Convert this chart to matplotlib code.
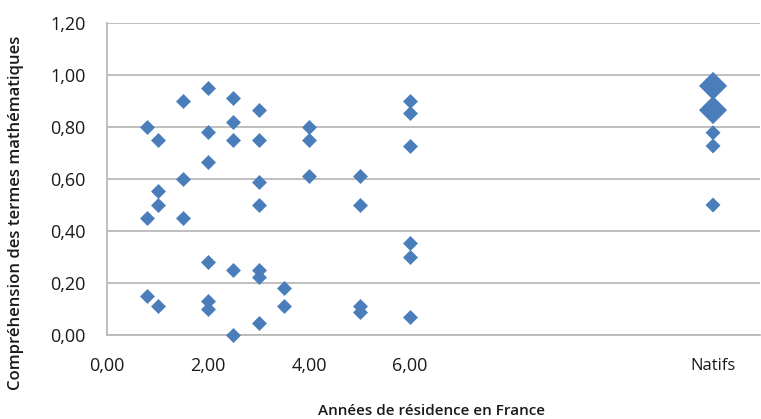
import matplotlib
matplotlib.use("Agg")
import matplotlib.pyplot as plt
import matplotlib.transforms as mtransforms

# Data
years = [0.8, 0.8, 0.8,
         1.0, 1.0, 1.0, 1.0,
         1.5, 1.5, 1.5,
         2.0, 2.0, 2.0, 2.0, 2.0, 2.0,
         2.5, 2.5, 2.5, 2.5, 2.5,
         3.0, 3.0, 3.0, 3.0, 3.0, 3.0, 3.0,
         3.5, 3.5,
         4.0, 4.0, 4.0,
         5.0, 5.0, 5.0, 5.0,
         6.0, 6.0, 6.0, 6.0, 6.0, 6.0]
comprehension = [0.80, 0.45, 0.15,
                 0.75, 0.555, 0.50, 0.11,
                 0.90, 0.60, 0.45,
                 0.95, 0.78, 0.667, 0.28, 0.13, 0.10,
                 0.91, 0.82, 0.75, 0.25, 0.0,
                 0.865, 0.75, 0.59, 0.50, 0.25, 0.225, 0.045,
                 0.18, 0.11,
                 0.80, 0.75, 0.61,
                 0.61, 0.50, 0.11, 0.09,
                 0.90, 0.855, 0.727, 0.353, 0.30, 0.07]
natifs_x = 12.0
natifs_values = [0.958, 0.865, 0.778, 0.727, 0.50]
natifs_big = [True, True, False, False, False]

y_ticks = [0.0, 0.2, 0.4, 0.6, 0.8, 1.0, 1.2]
x_ticks = [0, 2, 4, 6]
x_label = "Années de résidence en France"
y_label = "Compréhension des termes mathématiques"
natifs_label = "Natifs"

color = "#4A7EBB"
grid_color = "#B4B4B4"
font = ["Open Sans", "DejaVu Sans"]
plt.rcParams["font.family"] = font

fig = plt.figure(figsize=(7.61, 4.19), dpi=100)
ax = fig.add_axes([107 / 761, 1 - 335 / 419, (760 - 107) / 761, (335 - 23) / 419])

ax.scatter(years, comprehension, marker="D", s=58, color=color, linewidths=0, zorder=3, clip_on=False)
sizes = [205 if b else 58 for b in natifs_big]
ax.scatter([natifs_x] * len(natifs_values), natifs_values, marker="D", s=sizes,
           color=color, linewidths=0, zorder=3, clip_on=False)

ax.set_xlim(0, 12.93)
ax.set_ylim(0, 1.2)
ax.set_yticks(y_ticks)
ax.set_yticklabels([f"{v:.2f}".replace(".", ",") for v in y_ticks])
ax.set_xticks(x_ticks)
ax.set_xticklabels([f"{v:.2f}".replace(".", ",") for v in x_ticks])
ax.tick_params(axis="both", length=0, labelsize=13, colors="#1A1A1A")
ax.tick_params(axis="y", pad=15.5)
ax.tick_params(axis="x", pad=16)

ax.yaxis.grid(True, color=grid_color, linewidth=1.2)
ax.set_axisbelow(True)
for side in ["top", "right"]:
    ax.spines[side].set_visible(False)
for side in ["left", "bottom"]:
    ax.spines[side].set_color(grid_color)
    ax.spines[side].set_linewidth(1.2)

trans = mtransforms.blended_transform_factory(ax.transData, fig.transFigure)
ax.text(natifs_x, 1 - 366 / 419, natifs_label, transform=trans, ha="center", va="center",
        fontsize=12, color="#1A1A1A")

fig.text(431 / 761, 1 - 411 / 419, x_label, ha="center", va="center", fontsize=11,
         fontweight="semibold", color="#1A1A1A")
fig.text(16 / 761, 1 - 213 / 419, y_label, ha="center", va="center", rotation=90, fontsize=12,
         fontweight="semibold", color="#1A1A1A")

fig.savefig("out.png", dpi=100)
